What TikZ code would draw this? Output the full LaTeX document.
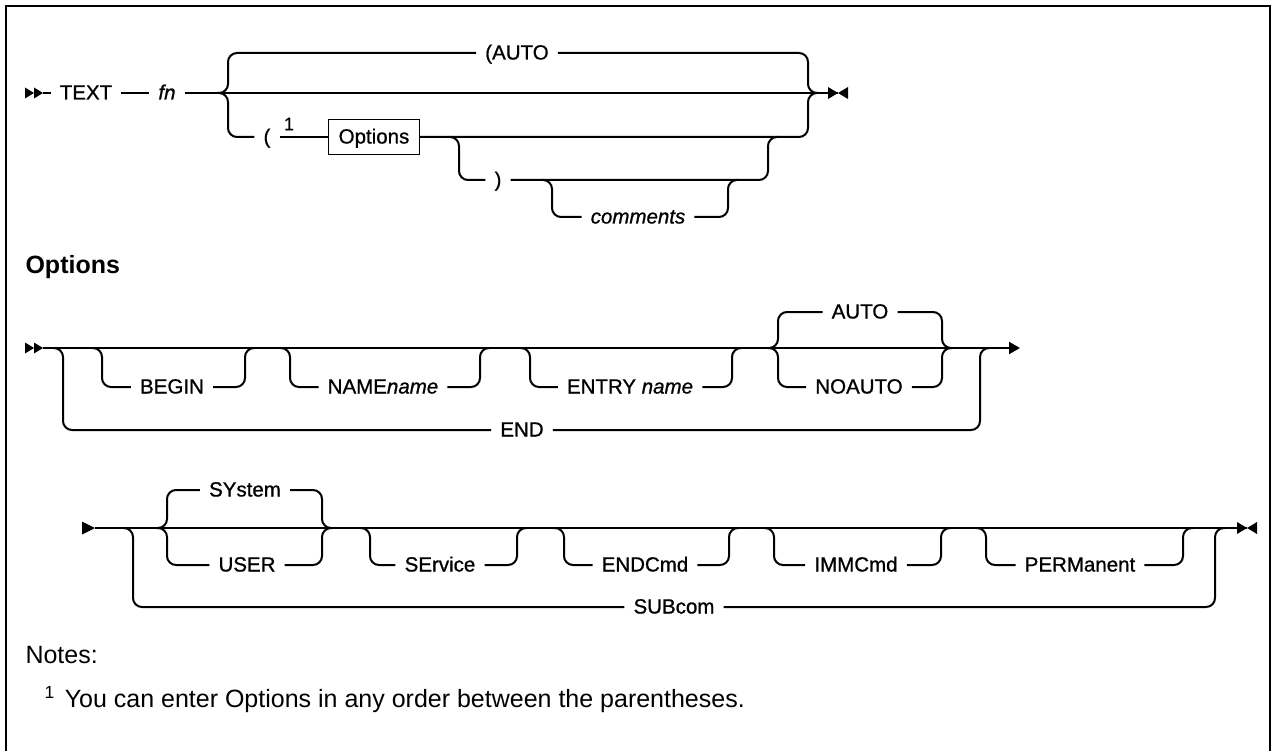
\documentclass[tikz,border=0pt]{standalone}
\usepackage{fontspec}
\setmainfont{Liberation Sans}
\newfontfamily\railfont[FakeBold=0.9]{Liberation Sans}
\usetikzlibrary{arrows.meta,positioning}

\begin{document}
\begin{tikzpicture}[
		x=1pt, y=-1pt,
		font=\railfont\fontsize{20.5}{24}\selectfont,
		rail/.style={line width=2pt, rounded corners=9pt},
		word/.style={inner xsep=9pt, inner ysep=0pt, text height=13pt, text depth=0pt},
		var/.style={word, font=\railfont\fontsize{20.5}{24}\selectfont\itshape},
		boxed/.style={draw, line width=1.6pt, inner xsep=10pt, inner ysep=11pt, text height=13pt, text depth=0pt},
		>={Triangle[length=11pt,width=12pt]}
		]
		\useasboundingbox (0,0) rectangle (1273,751);
		% Draw frame
		\draw[line width=2.5pt] (6,780) |- (1270,6) -- (1270,780);
		
		% TEXT command
		\coordinate (in1) at (43,93);
		\coordinate (out1) at (838,93);
		\coordinate (s1) at (218,93);
		\coordinate (j1) at (808,93);
		\coordinate (s2) at (449,137);
		\coordinate (j2) at (768,137);
		\coordinate (s3) at (542,180);
		\coordinate (j3) at (728,180);
		\node[word] (text) at (86,93) {TEXT};
		\node[var] (fn) at (167,93) {fn};
		\node[word] (auto1) at (517,53) {(AUTO};
		\node[word] (lpar) at (267,137) {(};
		\node[font=\railfont\fontsize{18}{20}\selectfont, inner sep=0pt] (sup1) at (289,124) {1};
		\node[boxed] (optbox) at (374,137) {Options};
		\node[word] (rpar) at (498,180) {)};
		\node[var] (cmt) at (638,217) {comments};
		
		\fill (in1) -- ++(-9,-5.5) -- ++(0,11) -- cycle;
		\fill (in1) ++(-9,0) -- ++(-9,-5.5) -- ++(0,11) -- cycle;
		\draw[rail] (in1) -- (text.west);
		\draw[rail] (text.east) -- (fn.west);
		\draw[rail] (fn.east) -- (out1);
		\draw[rail] (s1) -- ++(10,0) |- (auto1.west);
		\draw[rail] (auto1.east) -| (j1) -- ++(10,0);
		\draw[rail] (s1) -- ++(10,0) |- (lpar.west);
		\draw[rail] (lpar.east) -- (optbox.west);
		\draw[rail] (optbox.east) -| (j1) -- ++(10,0);
		\draw[rail] (s2) -- ++(10,0) |- (rpar.west);
		\draw[rail] (rpar.east) -| (j2) -- ++(10,0);
		\draw[rail] (s3) -- ++(10,0) |- (cmt.west);
		\draw[rail] (cmt.east) -| (j3) -- ++(10,0);
		\fill (out1) -- ++(-10,-6) -- ++(0,12) -- cycle;
		\fill (out1) -- ++(10,-6) -- ++(0,12) -- cycle;
		
		% Options fragment
		\node[anchor=west, font=\bfseries\fontsize{25}{28}\selectfont] (opthead) at (22,267) {Options};
		
		% first line
		\coordinate (in2) at (43,348);
		\coordinate (out2) at (1020,348);
		\coordinate (s4) at (53,348);
		\coordinate (j4) at (980,348);
		\coordinate (s5) at (92,348);
		\coordinate (j5) at (245,348);
		\coordinate (s6) at (280,348);
		\coordinate (j6) at (480,348);
		\coordinate (s7) at (520,348);
		\coordinate (j7) at (732,348);
		\coordinate (s8) at (768,348);
		\coordinate (j8) at (942,348);
		\node[word] (end) at (522,430) {END};
		\node[word] (begin) at (172,387) {BEGIN};
		\node[word] (name) at (383,387) {NAME\textit{name}};
		\node[word] (entry) at (630,387) {ENTRY \textit{name}};
		\node[word] (auto2) at (860,312) {AUTO};
		\node[word] (noauto) at (859,387) {NOAUTO};
		
		\fill (in2) -- ++(-9,-5.5) -- ++(0,11) -- cycle;
		\fill (in2) ++(-9,0) -- ++(-9,-5.5) -- ++(0,11) -- cycle;
		\draw[rail,->] (in2) -- (out2);
		\draw[rail] (s4) -- ++(10,0) |- (end.west);
		\draw[rail] (end.east) -| (j4) -- ++(10,0);
		\draw[rail] (s5) -- ++(10,0) |- (begin.west);
		\draw[rail] (begin.east) -| (j5) -- ++(10,0);
		\draw[rail] (s6) -- ++(10,0) |- (name.west);
		\draw[rail] (name.east) -| (j6) -- ++(10,0);
		\draw[rail] (s7) -- ++(10,0) |- (entry.west);
		\draw[rail] (entry.east) -| (j7) -- ++(10,0);
		\draw[rail] (s8) -- ++(10,0) |- (auto2.west);
		\draw[rail] (auto2.east) -| (j8) -- ++(10,0);
		\draw[rail] (s8) -- ++(10,0) |- (noauto.west);
		\draw[rail] (noauto.east) -| (j8) -- ++(10,0);
		
		% second line
		\coordinate (in3) at (95,528);
		\coordinate (out3) at (1247,528);
		\coordinate (s9) at (123,528);
		\coordinate (j9) at (1215,528);
		\coordinate (s10) at (157,528);
		\coordinate (j10) at (322,528);
		\coordinate (s11) at (360,528);
		\coordinate (j11) at (517,528);
		\coordinate (s12) at (554,528);
		\coordinate (j12) at (729,528);
		\coordinate (s13) at (764,528);
		\coordinate (j13) at (941,528);
		\coordinate (s14) at (976,528);
		\coordinate (j14) at (1183,528);
		\node[word] (subcom) at (674,607) {SUBcom};
		\node[word] (system) at (245,490) {SYstem};
		\node[word] (user) at (247,565) {USER};
		\node[word] (service) at (440,565) {SErvice};
		\node[word] (endcmd) at (645,565) {ENDCmd};
		\node[word] (immcmd) at (856,565) {IMMCmd};
		\node[word] (perm) at (1080,565) {PERManent};
		
		\fill (in3) -- ++(-13,-6.5) -- ++(0,13) -- cycle;
		\draw[rail] (in3) -- (out3);
		\draw[rail] (s9) -- ++(10,0) |- (subcom.west);
		\draw[rail] (subcom.east) -| (j9) -- ++(10,0);
		\draw[rail] (s10) -- ++(10,0) |- (system.west);
		\draw[rail] (system.east) -| (j10) -- ++(10,0);
		\draw[rail] (s10) -- ++(10,0) |- (user.west);
		\draw[rail] (user.east) -| (j10) -- ++(10,0);
		\draw[rail] (s11) -- ++(10,0) |- (service.west);
		\draw[rail] (service.east) -| (j11) -- ++(10,0);
		\draw[rail] (s12) -- ++(10,0) |- (endcmd.west);
		\draw[rail] (endcmd.east) -| (j12) -- ++(10,0);
		\draw[rail] (s13) -- ++(10,0) |- (immcmd.west);
		\draw[rail] (immcmd.east) -| (j13) -- ++(10,0);
		\draw[rail] (s14) -- ++(10,0) |- (perm.west);
		\draw[rail] (perm.east) -| (j14) -- ++(10,0);
		\fill (out3) -- ++(-10,-6) -- ++(0,12) -- cycle;
		\fill (out3) -- ++(10,-6) -- ++(0,12) -- cycle;
		
		% Notes
		\node[anchor=west, font=\fontsize{25}{28}\selectfont] (notes) at (22,655) {Notes:};
		\node[anchor=west, font=\fontsize{25}{28}\selectfont] (note1) at (41,700) {\textsuperscript{1}\hspace{10pt}You can enter Options in any order between the parentheses.};
		\end{tikzpicture}
\end{document}
